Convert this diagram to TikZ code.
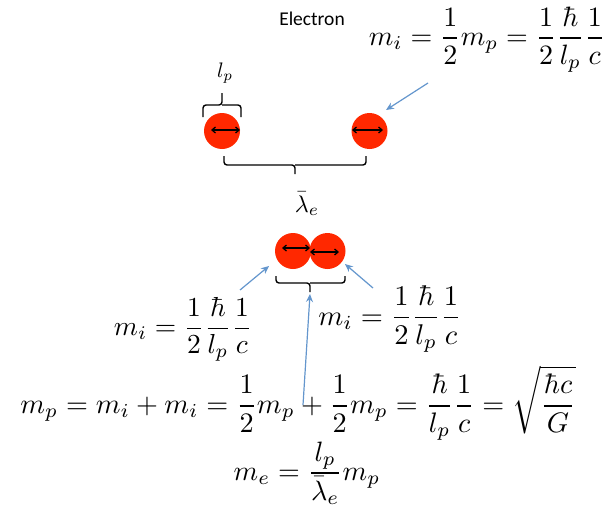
\documentclass[tikz,border=0pt]{standalone}
\usepackage{fontspec}
\newfontfamily\titlefont{Carlito}
\usetikzlibrary{arrows.meta}
\definecolor{ballred}{RGB}{255,40,0}
\definecolor{arrblue}{RGB}{100,150,205}
\begin{document}
\begin{tikzpicture}[x=1pt,y=-1pt,
  ball/.style={circle,fill=ballred,minimum size=36pt,inner sep=0pt},
  dbl/.style={line width=1.3pt,{Straight Barb[length=3.5pt,width=6pt]}-{Straight Barb[length=3.5pt,width=6pt]}},
  bluearr/.style={arrblue,line width=1.2pt,-{Stealth[length=8pt,width=7pt]}},
  bracestyle/.style={line width=1.4pt,rounded corners=3pt},
  eq/.style={inner sep=0pt,anchor=base}]
\useasboundingbox (0,0) rectangle (610,506);
% title
\node[eq] (title) at (312,25) {\titlefont\fontsize{19.5}{22}\selectfont Electron};
% top balls
\node[ball] (b1) at (222,131) {};
\node[ball] (b2) at (369.5,131) {};
\coordinate (b1l) at (211,130); \coordinate (b1r) at (240,130);
\coordinate (b2l) at (352,130); \coordinate (b2r) at (383,130);
\draw[dbl] (b1l) -- (b1r);
\draw[dbl] (b2l) -- (b2r);
% lp brace
\draw[bracestyle] (203,117) -- (203,105) -- (222,105) -- (222,93);
\draw[bracestyle] (241,117) -- (241,105) -- (222,105);
\node[eq,scale=2.1] (lp) at (225,77) {$l_p$};
% lambda brace
\draw[bracestyle] (224,156) -- (224,165) -- (295,165) -- (295,174);
\draw[bracestyle] (366,156) -- (366,165) -- (295,165);
\node[eq,scale=2.4] (lam) at (307,212) {$\bar{\lambda}_e$};
% top equation
\node[eq,scale=2.8] (eqtop) at (487,45) {$\displaystyle m_i=\frac{1}{2}m_p=\frac{1}{2}\frac{\hbar}{l_p}\frac{1}{c}$};
\coordinate (a1s) at (428,83); \coordinate (a1e) at (386,110);
\draw[bluearr] (a1s) -- (a1e);
% bottom pair
\node[ball] (b3) at (293,251) {};
\node[ball] (b4) at (327.5,251) {};
\coordinate (b3l) at (282,248); \coordinate (b3r) at (310,248);
\coordinate (b4l) at (310,252); \coordinate (b4r) at (339,252);
\draw[dbl] (b3l) -- (b3r);
\draw[dbl] (b4l) -- (b4r);
% small brace
\draw[bracestyle] (276,276) -- (276,283) -- (310,283) -- (310,292);
\draw[bracestyle] (345,276) -- (345,283) -- (310,283);
% mi labels
\node[eq,scale=2.75] (mil) at (183,335) {$\displaystyle m_i=\frac{1}{2}\frac{\hbar}{l_p}\frac{1}{c}$};
\node[eq,scale=2.85] (mir) at (390,325) {$\displaystyle m_i=\frac{1}{2}\frac{\hbar}{l_p}\frac{1}{c}$};
\coordinate (a2s) at (240,290); \coordinate (a2e) at (269,266);
\draw[bluearr] (a2s) -- (a2e);
\coordinate (a3s) at (373,288); \coordinate (a3e) at (345,264);
\draw[bluearr] (a3s) -- (a3e);
\coordinate (a4s) at (303,405); \coordinate (a4e) at (310,294);
\draw[bluearr] (a4s) -- (a4e);
% main equation
\node[eq,scale=2.82] (main) at (298,413) {$\displaystyle m_p=m_i+m_i=\frac{1}{2}m_p+\frac{1}{2}m_p=\frac{\hbar}{l_p}\frac{1}{c}=\sqrt{\frac{\hbar c}{G}}$};
\node[eq,scale=2.8] (me) at (307,480) {$\displaystyle m_e=\frac{l_p}{\bar{\lambda}_e}m_p$};
\end{tikzpicture}
\end{document}
